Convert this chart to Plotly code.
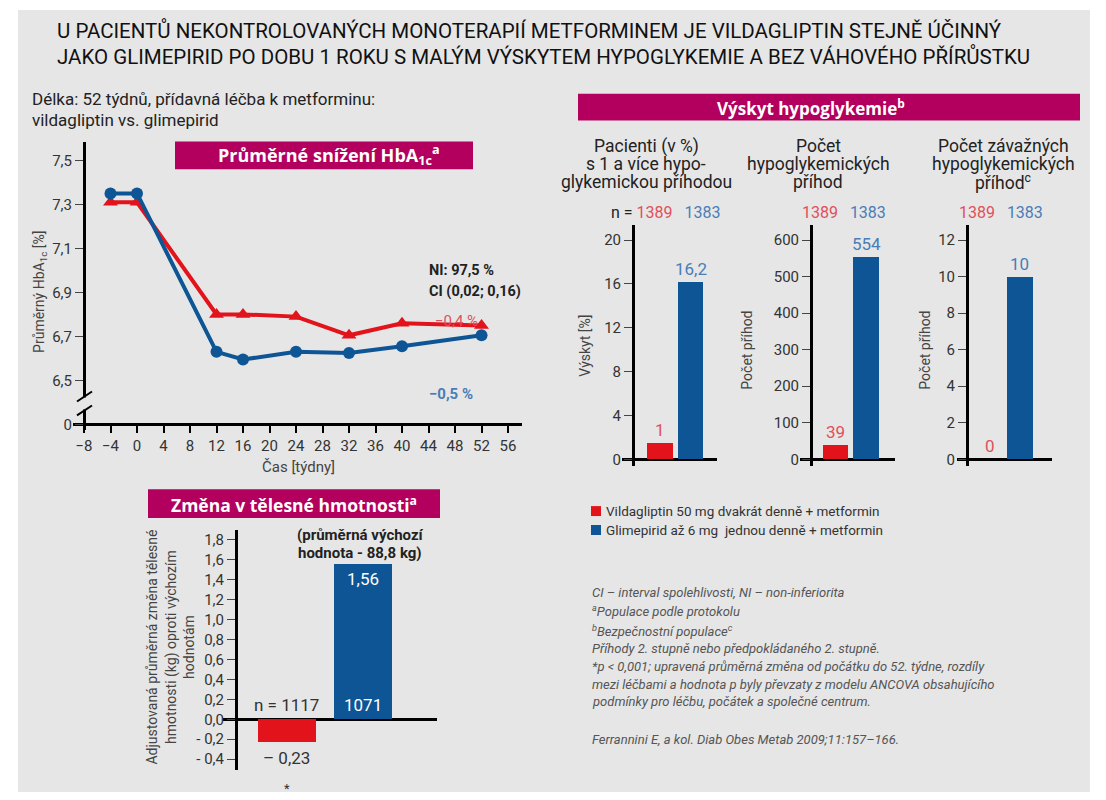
import plotly.graph_objects as go

W, H = 1106, 800
def px(x): return x / W
def py(y): return 1 - y / H

# ---------------- data ----------------
weeks = [-4, 0, 12, 16, 24, 32, 40, 52]
hba1c_vildagliptin = [7.31, 7.31, 6.80, 6.80, 6.79, 6.705, 6.76, 6.75]
hba1c_glimepirid = [7.35, 7.35, 6.63, 6.595, 6.63, 6.625, 6.655, 6.705]
hba1c_tickvals = [6.3, 6.5, 6.7, 6.9, 7.1, 7.3, 7.5]
hba1c_ticktext = ["0", "6,5", "6,7", "6,9", "7,1", "7,3", "7,5"]
week_ticks = [-8, -4, 0, 4, 8, 12, 16, 20, 24, 28, 32, 36, 40, 44, 48, 52, 56]

groups = ["Vildagliptin", "Glimepirid"]
weight_change = [-0.23, 1.56]
weight_value_text = ["– 0,23", "1,56"]
weight_n_text = ["n = 1117", "1071"]
weight_tickvals = [-0.4, -0.2, 0.0, 0.2, 0.4, 0.6, 0.8, 1.0, 1.2, 1.4, 1.6, 1.8]
weight_ticktext = ["- 0,4", "- 0,2", "0,0", "0,2", "0,4", "0,6", "0,8", "1,0", "1,2", "1,4", "1,6", "1,8"]

hypo_n = ["1389", "1383"]
hypo_patients_pct = [1.5, 16.2]
hypo_patients_text = ["1", "16,2"]
hypo_events = [39, 554]
hypo_events_text = ["39", "554"]
hypo_severe = [0, 10]
hypo_severe_text = ["0", "10"]

legend_labels = ["Vildagliptin 50 mg dvakrát denně + metformin",
                 "Glimepirid až 6 mg  jednou denně + metformin"]

# ---------------- style ----------------
RED = "#e2131b"
BLUE = "#0e5596"
RED_TXT = "#e0505a"
BLUE_TXT = "#4a7db6"
MAG = "#b3005e"
BG = "#e6e6e6"
BODY = "Roboto, Noto Sans, sans-serif"
HEAD = "Open Sans, Noto Sans, sans-serif"
TITLE_FONT = "Liberation Sans Narrow, Roboto, sans-serif"
TICKF = dict(family=BODY, size=15, color="#333")

fig = go.Figure()

# HbA1c lines
fig.add_trace(go.Scatter(x=weeks, y=hba1c_vildagliptin, mode="lines+markers",
                         line=dict(color=RED, width=4),
                         marker=dict(symbol="triangle-up", size=13, color=RED),
                         xaxis="x", yaxis="y", showlegend=False, cliponaxis=False))
fig.add_trace(go.Scatter(x=weeks, y=hba1c_glimepirid, mode="lines+markers",
                         line=dict(color=BLUE, width=4),
                         marker=dict(symbol="circle", size=12, color=BLUE),
                         xaxis="x", yaxis="y", showlegend=False, cliponaxis=False))

# weight bars
fig.add_trace(go.Bar(x=groups, y=weight_change, marker=dict(color=[RED, BLUE], line=dict(width=0)),
                     width=0.76, xaxis="x2", yaxis="y2", showlegend=False))

# hypoglycaemia bars
for vals, xa, ya in [(hypo_patients_pct, "x3", "y3"), (hypo_events, "x4", "y4"), (hypo_severe, "x5", "y5")]:
    fig.add_trace(go.Bar(x=groups, y=vals, marker=dict(color=[RED, BLUE], line=dict(width=0)),
                         width=0.85, xaxis=xa, yaxis=ya, showlegend=False))

def yax(domain_px, rng, tickvals, ticktext, pos_px, zeroline=False):
    return dict(domain=[py(domain_px[1]), py(domain_px[0])], range=rng, tickvals=tickvals,
                ticktext=ticktext, anchor="free", position=px(pos_px), showline=True,
                linewidth=3, linecolor="black", ticks="outside", ticklen=8, tickwidth=1,
                tickcolor="#444", showgrid=False, zeroline=zeroline, zerolinecolor="black",
                zerolinewidth=3, tickfont=TICKF, fixedrange=True)

def xcat(domain_px, rng, anchor):
    return dict(domain=[px(domain_px[0]), px(domain_px[1])], range=rng, type="category",
                anchor=anchor, showline=False, showticklabels=False, ticks="",
                showgrid=False, zeroline=False, fixedrange=True)

layout = dict(
    width=W, height=H, margin=dict(l=0, r=0, t=0, b=0),
    paper_bgcolor="white", plot_bgcolor="rgba(0,0,0,0)",
    bargap=0, showlegend=False,
    xaxis=dict(domain=[px(73), px(522)], range=[-9.66, 58.11], anchor="free", position=py(426),
               showline=True, linewidth=3, linecolor="black", ticks="outside", tickvals=week_ticks,
               ticklen=7, tickwidth=1.5, tickcolor="black", showgrid=False, zeroline=False,
               tickfont=TICKF, fixedrange=True),
    yaxis=yax((143, 432), [6.3 - 6 / 220, 7.5 + 18 / 220], hba1c_tickvals, hba1c_ticktext, 84),
    xaxis2=xcat((223, 437), [-0.842, 1.974], "y2"),
    yaxis2=yax((532, 773), [-0.51, 1.9], weight_tickvals, weight_ticktext, 236, zeroline=True),
    xaxis3=xcat((622, 717), [-1.246, 1.869], "y3"),
    yaxis3=yax((226, 468), [-0.636, 21.36], [0, 4, 8, 12, 16, 20], None, 633, zeroline=True),
    xaxis4=xcat((800, 895), [-1.164, 1.951], "y4"),
    yaxis4=yax((226, 468), [-19.1, 640.9], [0, 100, 200, 300, 400, 500, 600], None, 811, zeroline=True),
    xaxis5=xcat((957, 1052), [-1.066, 2.05], "y5"),
    yaxis5=yax((226, 468), [-0.382, 12.82], [0, 2, 4, 6, 8, 10, 12], None, 967, zeroline=True),
)
fig.update_layout(**layout)

shapes = []
# gray panel
shapes.append(dict(type="rect", xref="paper", yref="paper", x0=px(18), x1=px(1090), y0=py(795), y1=py(10),
                   fillcolor=BG, line=dict(width=0), layer="below"))
# magenta headers
for x0, x1, y0, y1 in [(175, 473, 142, 170), (148, 440, 491, 520), (578, 1080, 94, 121)]:
    shapes.append(dict(type="rect", xref="paper", yref="paper", x0=px(x0), x1=px(x1), y0=py(y1), y1=py(y0),
                       fillcolor=MAG, line=dict(width=0), layer="above"))
# axis break on HbA1c y axis
shapes.append(dict(type="rect", xref="paper", yref="paper", x0=px(80), x1=px(88), y0=py(411), y1=py(399),
                   fillcolor=BG, line=dict(width=0), layer="above"))
for ya, yb in [(403, 393), (417, 407)]:
    shapes.append(dict(type="line", xref="paper", yref="paper", x0=px(77), x1=px(92), y0=py(ya), y1=py(yb),
                       line=dict(color="black", width=2), layer="above"))
# legend squares
for yc, col in [(513, RED), (532, BLUE)]:
    shapes.append(dict(type="rect", xref="paper", yref="paper", x0=px(591), x1=px(601), y0=py(yc + 5), y1=py(yc - 5),
                       fillcolor=col, line=dict(width=0)))
fig.update_layout(shapes=shapes)

ann = []
def txt(x, y, text, size=15, color="#222", family=BODY, xanchor="left", **kw):
    ann.append(dict(xref="paper", yref="paper", x=px(x), y=py(y), text=text, showarrow=False,
                    xanchor=xanchor, yanchor="middle", font=dict(family=family, size=size, color=color), **kw))

# main title
txt(55, 31, "U PACIENTŮ NEKONTROLOVANÝCH MONOTERAPIÍ METFORMINEM JE VILDAGLIPTIN STEJNĚ ÚČINNÝ",
    size=20.5, color="#111", family=TITLE_FONT)
txt(55, 57, "JAKO GLIMEPIRID PO DOBU 1 ROKU S MALÝM VÝSKYTEM HYPOGLYKEMIE A BEZ VÁHOVÉHO PŘÍRŮSTKU",
    size=20.5, color="#111", family=TITLE_FONT)
# subtitle
txt(30, 99, "Délka: 52 týdnů, přídavná léčba k metforminu:", size=17)
txt(30, 120, "vildagliptin vs. glimepirid", size=17)

# header texts
txt(329, 156, "<b>Průměrné snížení HbA<sub>1c</sub><sup>a</sup></b>", size=18, color="white", family=HEAD, xanchor="center")
txt(294, 506, "<b>Změna v tělesné hmotnosti<sup>a</sup></b>", size=17.5, color="white", family=HEAD, xanchor="center")
txt(811, 108, "<b>Výskyt hypoglykemie<sup>b</sup></b>", size=17, color="white", family=HEAD, xanchor="center")

# line chart notes
txt(427, 272, "<b>NI: 97,5 %</b>", size=14.5, color="#222")
txt(427, 293, "<b>CI (0,02; 0,16)</b>", size=14.5, color="#222")
txt(433, 322, "−0,4 %", size=15, color=RED_TXT)
txt(427, 395, "<b>−0,5 %</b>", size=15, color=BLUE_TXT)
txt(298, 469, "Čas [týdny]", size=15, color="#444", xanchor="center")
txt(40, 293, "Průměrný HbA<sub>1c</sub> [%]", size=14, color="#444", xanchor="center", textangle=-90)

# weight chart texts
txt(360, 537, "<b>(průměrná výchozí</b>", size=15, color="#222", xanchor="center")
txt(360, 555, "<b>hodnota - 88,8 kg)</b>", size=15, color="#222", xanchor="center")
txt(170, 650, "Adjustovaná průměrná změna tělesné<br>hmotnosti (kg) oproti výchozím<br>hodnotám",
    size=14, color="#444", xanchor="center", textangle=-90)

def dat(xa, ya, x, y, text, color, size=17, yanchor="bottom", yshift=0):
    ann.append(dict(xref=xa, yref=ya, x=x, y=y, text=text, showarrow=False, xanchor="center",
                    yanchor=yanchor, yshift=yshift, font=dict(family=BODY, size=size, color=color)))

dat("x2", "y2", groups[1], weight_change[1], weight_value_text[1], "white", yanchor="top", yshift=-3)
dat("x2", "y2", groups[1], 0, weight_n_text[1], "white", yshift=2)
dat("x2", "y2", groups[0], 0, weight_n_text[0], "#333", yshift=2)
dat("x2", "y2", groups[0], weight_change[0], weight_value_text[0], "#333", yanchor="top", yshift=-4)
dat("x2", "y2", groups[0], weight_change[0], "*", "#333", size=13, yanchor="top", yshift=-37)

# hypoglycaemia value labels
for vals, texts, xa, ya in [(hypo_patients_pct, hypo_patients_text, "x3", "y3"),
                            (hypo_events, hypo_events_text, "x4", "y4"),
                            (hypo_severe, hypo_severe_text, "x5", "y5")]:
    for i in range(2):
        dat(xa, ya, groups[i], vals[i], texts[i], RED_TXT if i == 0 else BLUE_TXT, yshift=1)

# hypo panel headers
for cx, lines in [(646, ["Pacienti (v %)", "s 1 a více hypo-", "glykemickou příhodou"]),
                  (818, ["Počet", "hypoglykemických", "příhod"]),
                  (1003, ["Počet závažných", "hypoglykemických", "příhod<sup>c</sup>"])]:
    for k, line in enumerate(lines):
        txt(cx, 147 + 18 * k, line, size=17.5, color="#222", xanchor="center")

nrow = "<span style='color:%s'>%s</span>   <span style='color:%s'>%s</span>" % (RED_TXT, hypo_n[0], BLUE_TXT, hypo_n[1])
txt(665, 213, "n = " + nrow, size=16, color="#222", xanchor="center")
txt(844, 213, nrow, size=16, color="#222", xanchor="center")
txt(1001, 213, nrow, size=16, color="#222", xanchor="center")

txt(585, 347, "Výskyt [%]", size=14, color="#444", xanchor="center", textangle=-90)
txt(747, 352, "Počet příhod", size=14, color="#444", xanchor="center", textangle=-90)
txt(925, 352, "Počet příhod", size=14, color="#444", xanchor="center", textangle=-90)

# legend
txt(604, 513, legend_labels[0], size=13.5, color="#333")
txt(604, 532, legend_labels[1], size=13.5, color="#333")

# footnotes
foot = [(595, "CI – interval spolehlivosti, NI – non-inferiorita"),
        (613, "<sup>a</sup>Populace podle protokolu"),
        (633, "<sup>b</sup>Bezpečnostní populace<sup>c</sup>"),
        (651, "Příhody 2. stupně nebo předpokládaného 2. stupně."),
        (669, "*p &lt; 0,001; upravená průměrná změna od počátku do 52. týdne, rozdíly"),
        (687, "mezi léčbami a hodnota p byly převzaty z modelu ANCOVA obsahujícího"),
        (704, "podmínky pro léčbu, počátek a společné centrum."),
        (742, "Ferrannini E, a kol. Diab Obes Metab 2009;11:157–166.")]
for yy, t in foot:
    txt(590, yy, "<i>" + t + "</i>", size=13, color="#555")

fig.update_layout(annotations=ann)
fig.write_html("out.html", config={"displayModeBar": False},
               post_script="document.body.style.margin='0';document.body.style.padding='0';"
                           "document.documentElement.style.overflow='hidden';")
